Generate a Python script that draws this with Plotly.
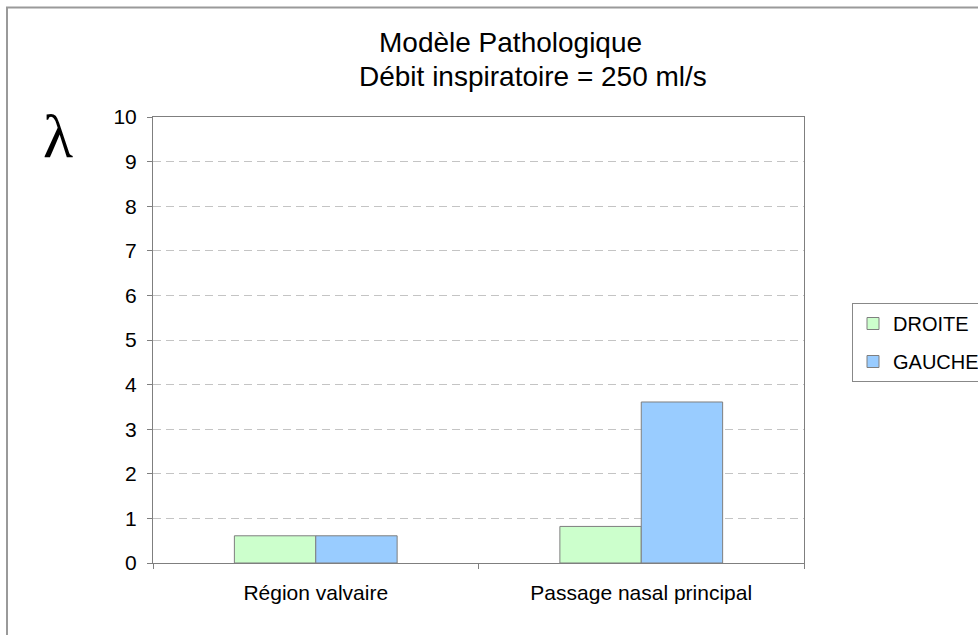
import plotly.graph_objects as go

# Data
categories = ["Région valvaire", "Passage nasal principal"]
droite = [0.61, 0.82]
gauche = [0.61, 3.61]
series_names = ["DROITE", "GAUCHE"]
y_ticks = list(range(0, 11))

W, H = 978, 635
L, R, T, B = 153, 174, 117, 72
PW, PH = W - L - R, H - T - B


def px(x):
    return (x - L) / PW


def py(y):
    return (H - B - y) / PH


FONT = "Liberation Sans, Arial, sans-serif"
EDGE = "#7f7f7f"

fig = go.Figure()
fig.add_trace(go.Bar(
    x=categories, y=droite, name=series_names[0],
    marker=dict(color="#CCFFCC", line=dict(color=EDGE, width=1)),
    legendgroup="d",
))
fig.add_trace(go.Bar(
    x=categories, y=gauche, name=series_names[1],
    marker=dict(color="#99CCFF", line=dict(color=EDGE, width=1)),
    legendgroup="g",
))

fig.update_layout(
    width=W, height=H,
    margin=dict(l=L, r=R, t=T, b=B, pad=0, autoexpand=False),
    paper_bgcolor="white", plot_bgcolor="white",
    barmode="group", bargap=0.5, bargroupgap=0,
    font=dict(family=FONT, color="black", size=20),
    showlegend=True,
    legend=dict(
        xref="container", yref="container",
        x=852 / W, y=1 - 303 / H, xanchor="left", yanchor="top",
        bordercolor="#888888", borderwidth=1, bgcolor="white",
        font=dict(family=FONT, size=20),
        traceorder="grouped", tracegroupgap=9,
    ),
)

fig.update_xaxes(
    type="category", showgrid=False, zeroline=False,
    showline=True, linecolor=EDGE, linewidth=1, mirror=True,
    ticks="outside", ticklen=5, tickcolor=EDGE, tickson="boundaries",
    ticklabelstandoff=11,
    tickfont=dict(family=FONT, size=21),
)
fig.update_yaxes(
    range=[0, 10], tickvals=y_ticks, zeroline=False,
    showline=True, linecolor=EDGE, linewidth=1, mirror=True,
    ticks="outside", ticklen=5, tickcolor=EDGE,
    showgrid=True, gridcolor="#c4c4c4", gridwidth=1, griddash="8px,5px",
    ticklabelstandoff=6,
    tickfont=dict(family=FONT, size=21),
)

# Two-line title
fig.add_annotation(
    text="Modèle Pathologique", xref="paper", yref="paper",
    x=px(510), y=py(42), xanchor="center", yanchor="middle",
    showarrow=False, font=dict(family=FONT, size=28),
)
fig.add_annotation(
    text="Débit inspiratoire = 250 ml/s", xref="paper", yref="paper",
    x=px(533), y=py(76), xanchor="center", yanchor="middle",
    showarrow=False, font=dict(family=FONT, size=28),
)

# Axis symbol
fig.add_annotation(
    text="λ", xref="paper", yref="paper",
    x=px(58), y=py(136), xanchor="center", yanchor="middle",
    showarrow=False, font=dict(family="Liberation Serif, Times New Roman, serif", size=62),
)

# Chart frame
fig.add_shape(
    type="rect", xref="paper", yref="paper",
    x0=px(7), x1=px(1010), y0=py(700), y1=py(7.5),
    line=dict(color="#9a9a9a", width=2), fillcolor="rgba(0,0,0,0)", layer="below",
)

fig.write_html("out.html")
